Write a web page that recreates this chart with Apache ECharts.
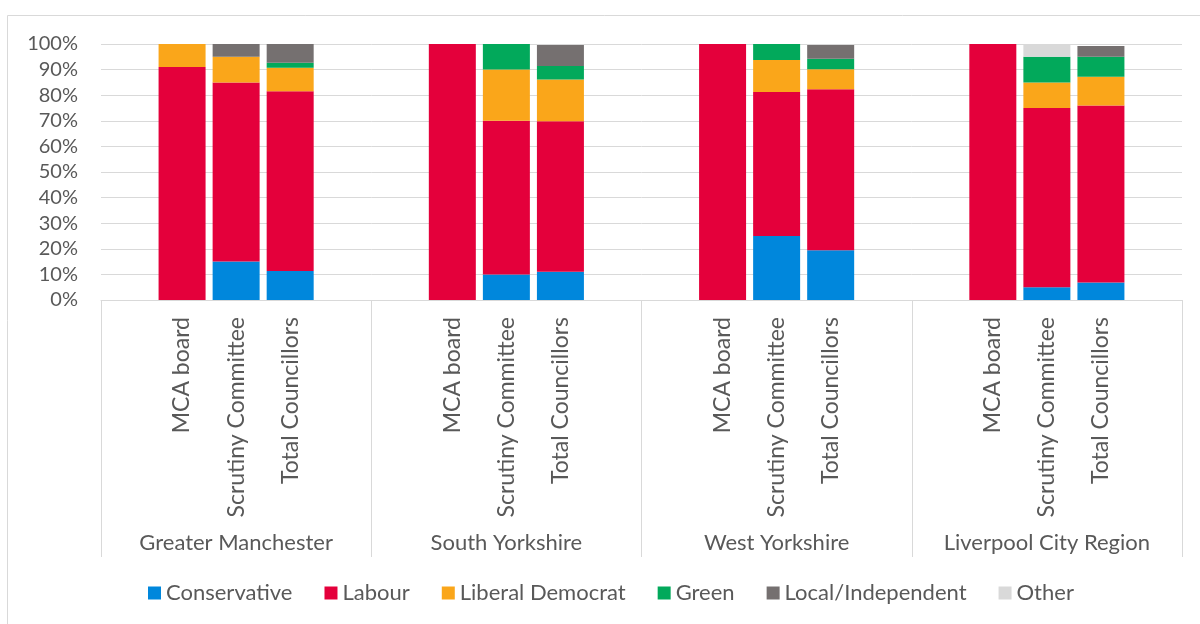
<!DOCTYPE html>
<html>
<head>
<meta charset="utf-8">
<script src="https://cdn.jsdelivr.net/npm/echarts@6/dist/echarts.min.js"></script>
<style>
html,body{margin:0;padding:0;background:#fff;}
#chart{width:1200px;height:624px;}
</style>
</head>
<body>
<div id="chart"></div>
<script>
// ---- Data ----
var groups = ['Greater Manchester', 'South Yorkshire', 'West Yorkshire', 'Liverpool City Region'];
var subCategories = ['MCA board', 'Scrutiny Committee', 'Total Councillors'];
var seriesNames = ['Conservative', 'Labour', 'Liberal Democrat', 'Green', 'Local/Independent', 'Other'];
// values per bar, in order: each group x (MCA board, Scrutiny Committee, Total Councillors)
var conservative = [0, 15, 11.3, 0, 10, 11.0, 0, 25, 19.4, 0, 5, 6.8];
var labour       = [91, 70, 70.2, 100, 60, 58.8, 100, 56.25, 62.9, 100, 70, 69.2];
var libDem       = [9, 10, 9.2, 0, 20, 16.3, 0, 12.5, 7.8, 0, 10, 11.2];
var green        = [0, 0, 2.0, 0, 10, 5.3, 0, 6.25, 4.1, 0, 10, 7.8];
var localInd     = [0, 5, 7.3, 0, 0, 8.2, 0, 0, 5.4, 0, 0, 4.2];
var other        = [0, 0, 0, 0, 0, 0, 0, 0, 0, 0, 5, 0];
var yTicks = [0, 10, 20, 30, 40, 50, 60, 70, 80, 90, 100];

var colors = ['#0087DC', '#E4003B', '#FAA61A', '#02A95B', '#757070', '#D9D9D9'];
var textColor = '#595959';
var FONT = 'Lato';

// Each group occupies 5 slots on the category axis: blank, 3 bars, blank
function slotLabels() {
  var out = [];
  groups.forEach(function () {
    out.push('');
    subCategories.forEach(function (s) { out.push(s); });
    out.push('');
  });
  return out;
}
function slotData(arr) {
  var out = [];
  for (var g = 0; g < groups.length; g++) {
    out.push(null);
    for (var s = 0; s < subCategories.length; s++) {
      var v = arr[g * subCategories.length + s];
      out.push(v === 0 ? null : v);
    }
    out.push(null);
  }
  return out;
}

var allValues = [conservative, labour, libDem, green, localInd, other];
var series = seriesNames.map(function (name, i) {
  return {
    name: name,
    type: 'bar',
    stack: 'total',
    barWidth: 47,
    xAxisIndex: 0,
    itemStyle: { color: colors[i] },
    emphasis: { disabled: true },
    data: slotData(allValues[i])
  };
});

var chart = echarts.init(document.getElementById('chart'), null, { renderer: 'canvas' });
chart.setOption({
  animation: false,
  color: colors,
  textStyle: { fontFamily: FONT },
  graphic: [{
    type: 'rect',
    shape: { x: 7.5, y: 15.5, width: 1300, height: 700 },
    style: { fill: 'none', stroke: '#d9d9d9', lineWidth: 1 },
    z: -10
  }],
  grid: { left: 101, right: 18, top: 44, bottom: 324, containLabel: false },
  legend: {
    data: seriesNames,
    bottom: 15,
    left: 143,
    itemWidth: 13,
    itemHeight: 13,
    itemGap: 32,
    icon: 'rect',
    textStyle: { color: textColor, fontSize: 22, fontFamily: FONT }
  },
  xAxis: [{
    type: 'category',
    data: slotLabels(),
    position: 'bottom',
    axisLine: { show: true, lineStyle: { color: '#d9d9d9', width: 1 } },
    axisTick: { show: false },
    axisLabel: {
      interval: 0,
      rotate: 90,
      margin: 17,
      color: textColor,
      fontSize: 23,
      fontFamily: FONT
    },
    splitLine: { show: false }
  }, {
    type: 'category',
    data: groups,
    position: 'bottom',
    boundaryGap: true,
    axisLine: { show: false },
    axisTick: { show: true, length: 257, lineStyle: { color: '#d9d9d9', width: 1 } },
    axisLabel: {
      interval: 0,
      margin: 232,
      color: textColor,
      fontSize: 22,
      fontFamily: FONT
    },
    splitLine: { show: false }
  }],
  yAxis: {
    type: 'value',
    min: 0,
    max: 100,
    interval: 10,
    axisLine: { show: false },
    axisTick: { show: false },
    axisLabel: {
      margin: 23,
      color: textColor,
      fontSize: 20,
      fontFamily: FONT,
      formatter: function (v) { return yTicks.indexOf(v) >= 0 ? v + '%' : ''; }
    },
    splitLine: { show: true, lineStyle: { color: '#d9d9d9', width: 1 } }
  },
  series: series
});
</script>
</body>
</html>
